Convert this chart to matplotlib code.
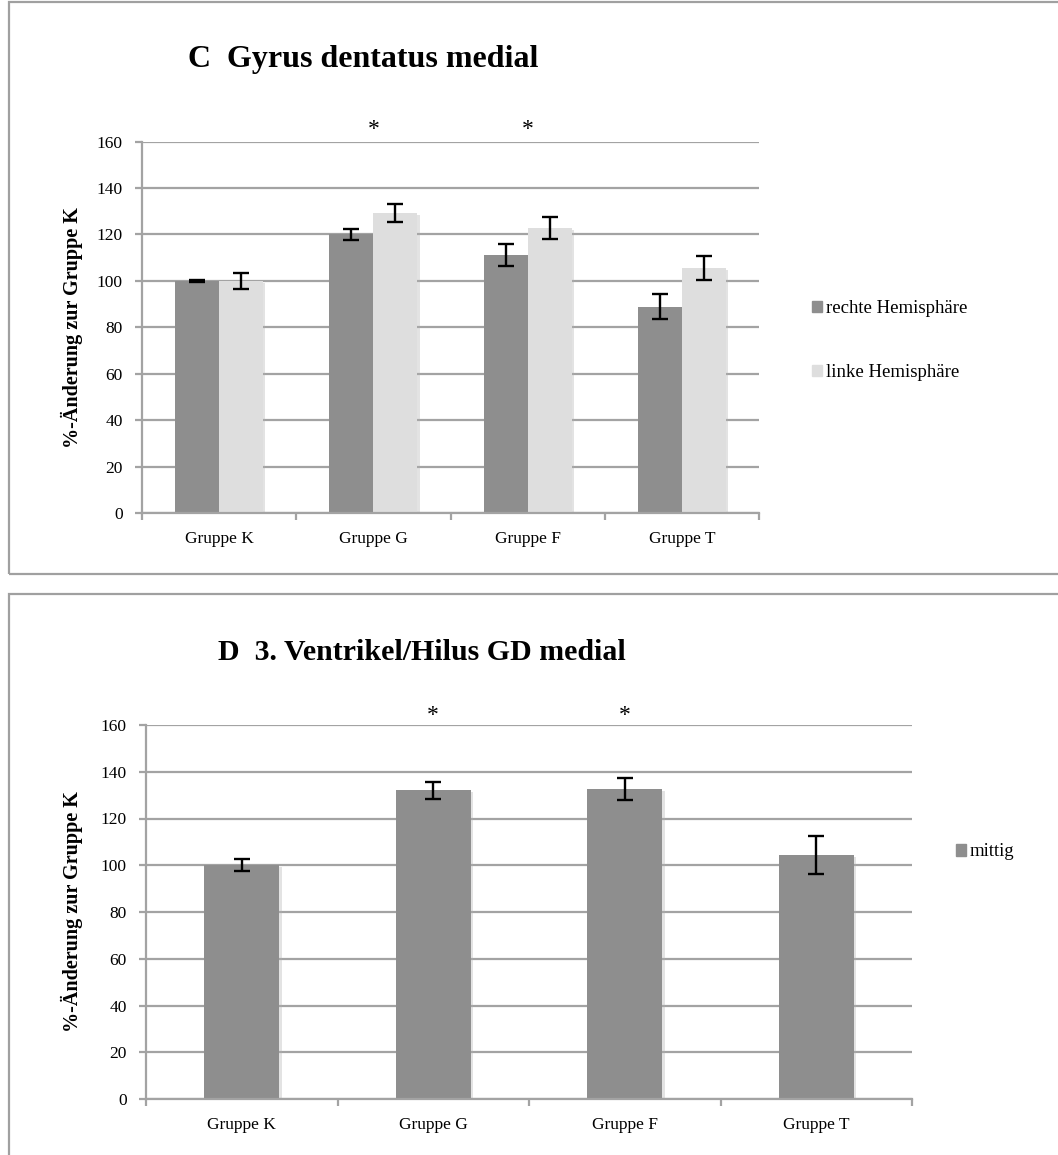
"""Two Excel-style bar charts: Gyrus dentatus medial and 3. Ventrikel/Hilus GD medial."""
import matplotlib.pyplot as plt
import matplotlib.patheffects as pe
import numpy as np
from matplotlib.patches import Patch, Rectangle

FIG_W, FIG_H = 1058, 1155

groups = ["Gruppe K", "Gruppe G", "Gruppe F", "Gruppe T"]

# panel C: rechte / linke Hemisphäre
rechte = [100.0, 120.0, 111.0, 88.8]
rechte_err = [0.5, 2.4, 4.8, 5.4]
linke = [100.0, 129.2, 122.7, 105.4]
linke_err = [3.4, 4.0, 4.6, 5.1]
stars_c = [False, True, True, False]

# panel D: mittig
mittig = [100.0, 132.1, 132.7, 104.3]
mittig_err = [2.6, 3.7, 4.8, 8.1]
stars_d = [False, True, True, False]

DARK = "#8e8e8e"
LIGHT = "#dedede"
GRID = "#a3a3a3"
SERIF = "Liberation Serif"

plt.rcParams["font.family"] = SERIF


def px_box(left, top, right, bottom):
    """Pixel box (from top-left) to figure fraction [l, b, w, h]."""
    return [left / FIG_W, 1 - bottom / FIG_H, (right - left) / FIG_W, (bottom - top) / FIG_H]


def fx(x):
    return x / FIG_W


def fy(y):
    return 1 - y / FIG_H


def style_axes(ax, label_x):
    ax.set_xlim(-0.5, len(groups) - 0.5)
    ax.set_ylim(0, 160)
    ax.set_yticks(np.arange(0, 161, 20))
    ax.yaxis.grid(True, color=GRID, linewidth=1.6)
    ax.set_axisbelow(True)
    for side in ["top", "right"]:
        ax.spines[side].set_visible(False)
    for side in ["left", "bottom"]:
        ax.spines[side].set_color(GRID)
        ax.spines[side].set_linewidth(1.6)
    # boundaries as major ticks, group names as minor ticks
    ax.set_xticks(np.arange(-0.5, len(groups), 1.0))
    ax.set_xticklabels([])
    ax.set_xticks(np.arange(len(groups)), minor=True)
    ax.set_xticklabels(groups, minor=True, fontsize=12.5)
    ax.tick_params(axis="x", which="major", direction="out", length=5, width=1.6, color=GRID)
    ax.tick_params(axis="x", which="minor", length=0, pad=13)
    ax.tick_params(axis="y", direction="out", length=5, width=1.6, color=GRID,
                   labelsize=12.5, pad=9)
    ax.set_ylabel("%-Änderung zur Gruppe K", fontsize=14.5, fontweight="bold")
    ax.yaxis.set_label_coords(label_x, 0.5)


shadow = [pe.SimplePatchShadow(offset=(1.5, -1.5), shadow_rgbFace="#b0b0b0", alpha=0.35), pe.Normal()]
err_kw = dict(ecolor="black", elinewidth=1.7, capsize=5.5, capthick=1.7)

fig = plt.figure(figsize=(FIG_W / 100, FIG_H / 100), dpi=100)

# panel frames
for top, bottom in [(2, 574), (594, 1170)]:
    fig.patches.append(Rectangle((fx(8.5), fy(bottom)), fx(1100), fy(top) - fy(bottom),
                                 transform=fig.transFigure, fill=False,
                                 edgecolor="#a0a0a0", linewidth=1.6))

# ---- panel C ----
ax1 = fig.add_axes(px_box(142, 141.5, 759, 513))
style_axes(ax1, (83 - 142) / 617)
x = np.arange(len(groups))
w = 0.286
ax1.bar(x - w / 2, rechte, w, color=DARK, yerr=rechte_err, error_kw=err_kw,
        path_effects=shadow, zorder=2)
ax1.bar(x + w / 2, linke, w, color=LIGHT, yerr=linke_err, error_kw=err_kw,
        path_effects=shadow, zorder=2)
for xi, s in zip(x, stars_c):
    if s:
        ax1.text(xi, 165, "*", ha="center", va="center", fontsize=17, clip_on=False)
ax1.legend(handles=[Patch(color=DARK, label="rechte Hemisphäre"),
                    Patch(color=LIGHT, label="linke Hemisphäre")],
           loc="center left", bbox_to_anchor=(fx(812), fy(340.5)),
           bbox_transform=fig.transFigure, frameon=False, fontsize=13.5,
           handlelength=0.55, handleheight=0.55, handletextpad=0.2,
           labelspacing=2.5, borderpad=0, borderaxespad=0)
fig.text(fx(188), fy(60), "C  Gyrus dentatus medial", fontsize=23,
         fontweight="bold", ha="left", va="center")

# ---- panel D ----
ax2 = fig.add_axes(px_box(146, 725, 912, 1099))
style_axes(ax2, (83 - 146) / 766)
w2 = 0.394
ax2.bar(x, mittig, w2, color=DARK, yerr=mittig_err, error_kw=err_kw,
        path_effects=shadow, zorder=2)
for xi, s in zip(x, stars_d):
    if s:
        ax2.text(xi, 164, "*", ha="center", va="center", fontsize=17, clip_on=False)
ax2.legend(handles=[Patch(color=DARK, label="mittig")],
           loc="center left", bbox_to_anchor=(fx(956), fy(852)),
           bbox_transform=fig.transFigure, frameon=False, fontsize=13.5,
           handlelength=0.55, handleheight=0.55, handletextpad=0.2,
           borderpad=0, borderaxespad=0)
fig.text(fx(218), fy(652), "D  3. Ventrikel/Hilus GD medial", fontsize=21.5,
         fontweight="bold", ha="left", va="center")

fig.savefig("out.png", dpi=100)
